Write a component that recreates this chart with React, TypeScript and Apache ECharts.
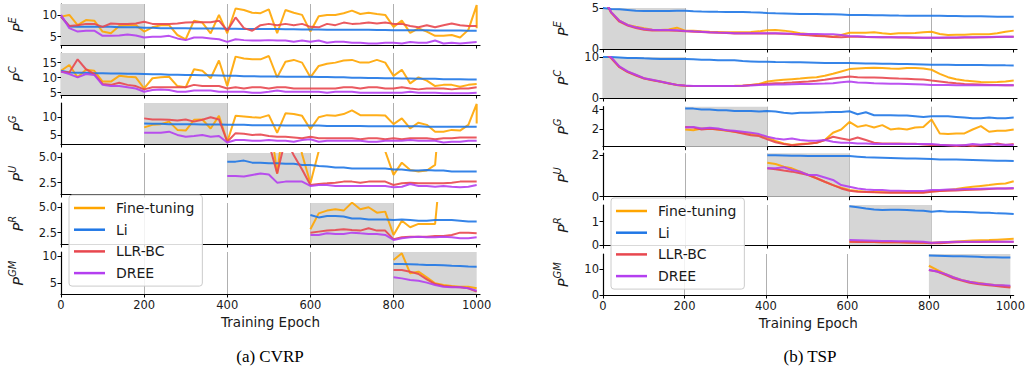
import React, { useEffect, useRef } from "react";
import * as echarts from "echarts";

// ---------------- data ----------------
const METHODS = ["Fine-tuning", "Li", "LLR-BC", "DREE"];
const ROW_KEYS = ["E", "C", "G", "U", "R", "GM"];
const ROW_START = [0, 0, 200, 400, 600, 800]; // first epoch of each row
const SHADE = [[0, 200], [0, 200], [200, 400], [400, 600], [600, 800], [800, 1000]];
const EPOCH_STEP = 20;
const X_TICKS = [0, 200, 400, 600, 800, 1000];
const CAPTIONS = ["(a) CVRP", "(b) TSP"];
const X_NAME = "Training Epoch";

// CVRP
const cvrpE_FT = [9.7,10.1,7.7,8.9,8.75,6.2,5.8,7.5,7.7,7.7, 6.2,7.2,7.7,7.7,5.4,4.4,8.75,8.3,5.8,10.1, 5.8,11.6,11.25,10.6,10.5,11.4,5.8,11.25,10.6,10.1, 6.2,9.8,10.1,10.1,10.5,11.1,10.3,10.6,10.3,10.1, 7.3,8.75,5.9,6.95,6.2,5.2,5.2,5.4,4.8,6.6, 12.4];
const cvrpE_FT_last = 7.0;
const cvrpE_Li = [9.7,7.4,7.3,7.3,7.3,7.3,7.3,7.2,7.2,7.2, 7.1,7.1,7.0,7.0,7.0,7.0,6.9,6.9,6.9,6.9, 6.85,6.85,6.8,6.8,6.8,6.8,6.8,6.75,6.75,6.7, 6.7,6.7,6.65,6.65,6.6,6.6,6.6,6.6,6.55,6.55, 6.5,6.5,6.5,6.5,6.5,6.45,6.45,6.45,6.45,6.4, 6.4];
const cvrpE_LLR = [9.7,7.5,7.7,8.0,8.0,7.3,8.1,8.0,8.0,8.1, 8.5,8.0,8.0,8.0,8.1,8.3,8.4,8.4,8.4,8.75, 6.4,9.5,7.0,6.4,7.7,8.0,7.7,8.0,7.7,8.0, 7.3,7.2,8.0,7.7,8.3,8.0,8.1,8.3,8.1,8.3, 8.0,8.0,7.5,7.2,7.7,7.2,7.7,8.1,7.7,7.5, 7.5];
const cvrpE_DREE = [10.1,7.0,6.2,6.4,6.4,5.2,5.2,5.3,5.5,5.3, 4.8,5.0,5.0,5.2,4.6,4.2,4.8,4.8,4.6,4.4, 3.8,4.4,4.2,4.1,4.1,4.2,4.1,4.1,3.8,4.1, 3.8,4.1,3.6,3.8,3.8,3.6,3.6,3.4,3.4,3.6, 3.6,3.4,3.75,3.6,3.6,4.1,3.4,3.6,3.4,3.6, 3.75];

const cvrpC_FT = [12.3,14.2,10.1,12.6,12.3,8.7,8.7,10.6,10.3,10.1, 6.4,9.8,10.1,10.3,7.2,6.8,12.8,12.3,9.8,15.7, 7.2,17.0,16.4,16.1,16.1,17.2,10.1,15.3,15.9,15.0, 10.1,13.9,14.6,15.0,15.7,15.9,15.0,15.0,15.9,15.0, 10.6,12.6,8.1,10.1,9.0,7.2,7.6,7.6,7.0,7.6, 7.9];
const cvrpC_Li = [12.3,11.7,11.6,11.6,11.5,11.5,11.4,11.4,11.3,11.3, 11.2,11.1,11.1,11.0,11.0,10.9,10.9,10.8,10.8,10.7, 10.6,10.6,10.5,10.5,10.4,10.4,10.4,10.3,10.3,10.3, 10.3,10.2,10.2,10.1,10.1,10.0,10.0,9.9,9.9,9.8, 9.8,9.7,9.7,9.6,9.6,9.6,9.5,9.5,9.5,9.4, 9.4];
const cvrpC_LLR = [12.0,11.7,16.1,12.8,11.2,7.9,7.6,8.3,7.6,7.2, 6.1,6.8,6.8,6.8,6.8,6.8,7.6,7.2,7.2,7.2, 6.4,6.8,6.4,6.8,6.8,6.4,6.8,6.8,6.4,6.4, 6.4,6.4,6.4,6.4,6.8,6.8,6.4,6.8,6.8,6.4, 6.4,6.8,6.4,6.1,6.4,6.4,6.4,6.1,6.4,6.4, 6.8];
const cvrpC_DREE = [12.0,11.2,10.1,11.2,10.9,7.6,7.2,7.2,6.8,6.4, 5.3,5.9,6.1,5.9,5.3,5.3,5.7,5.7,5.7,5.3, 5.3,5.3,5.3,5.0,5.0,5.3,5.7,5.3,5.3,5.3, 5.3,5.3,5.0,5.3,5.3,5.3,5.0,5.0,5.0,5.0, 5.0,5.0,5.3,5.0,5.0,5.0,4.8,4.8,4.8,4.8, 5.0];

const cvrpG_FT = [7.2,7.9,8.1,8.8,6.5,6.3,9.3,9.4,6.9,10.4, 3.2,10.4,10.2,10.0,9.9,10.6,5.7,11.1,10.9,10.4, 6.7,10.0,10.6,10.4,10.9,11.9,10.6,10.6,10.6,10.5, 8.1,9.7,6.9,8.5,7.9,6.0,6.0,6.5,6.3,7.9, 13.7];
const cvrpG_FT_last = 8.3;
const cvrpG_Li = [8.3,8.2,8.2,8.1,8.1,8.1,8.1,8.0,8.0,8.0, 7.9,7.9,7.9,7.8,7.8,7.8,7.8,7.7,7.7,7.7, 7.7,7.7,7.6,7.6,7.6,7.6,7.6,7.5,7.5,7.5, 7.5,7.5,7.5,7.5,7.4,7.4,7.4,7.4,7.4,7.4, 7.4];
const cvrpG_LLR = [9.7,9.4,9.4,9.3,9.1,9.4,8.8,9.3,10.0,9.4, 3.2,5.6,5.4,5.1,5.2,4.8,4.6,4.6,4.4,4.2, 4.6,4.2,4.2,4.2,4.2,4.2,3.9,4.2,4.2,3.9, 4.2,3.9,4.2,4.2,4.2,3.9,4.2,4.2,4.4,4.4, 4.4];
const cvrpG_DREE = [5.7,5.7,5.7,6.0,5.1,4.6,4.8,5.1,4.6,4.8, 3.0,3.7,3.7,3.5,3.5,3.7,3.5,3.5,3.2,3.7, 3.9,3.2,3.5,3.5,3.5,3.5,3.5,3.2,3.2,3.5, 3.5,3.5,3.7,3.5,3.5,3.5,3.0,3.2,3.2,3.5, 3.5];

const cvrpU_FT = [8.5,9.0,9.2,8.8,8.6,9.5,3.4,9.8,9.4,5.3, 2.43,5.6,9.0,9.2,9.5,10.0,9.2,9.3,9.0,5.6, 3.26,4.47,3.75,3.6,3.7,4.25,14.0,13.0,12.5,13.5, 15.0];
const cvrpU_Li = [4.57,4.57,4.67,4.47,4.47,4.4,4.4,4.35,4.35,4.24, 4.24,4.14,4.08,4.0,4.0,3.9,3.9,3.9,3.9,3.9, 3.8,3.8,3.7,3.7,3.75,3.7,3.7,3.6,3.6,3.6, 3.6];
const cvrpU_LLR = [7.0,6.8,6.9,6.6,6.5,6.4,3.4,6.8,5.2,3.8, 2.27,2.37,2.43,2.5,2.6,2.6,2.5,2.6,2.6,2.6, 2.27,2.43,2.5,2.43,2.43,2.43,2.43,2.5,2.6,2.6, 2.6];
const cvrpU_DREE = [3.16,3.16,3.1,3.26,3.4,3.3,2.5,2.6,2.6,2.6, 2.17,2.27,2.27,2.17,2.17,2.17,2.17,2.17,2.17,2.17, 2.04,2.1,2.37,2.17,2.17,2.1,2.17,2.1,2.04,2.1, 2.27];

const cvrpR_FT = [2.83,4.4,4.67,4.8,4.67,5.46,4.8,5.0,4.47,4.57, 2.27,3.68,3.03,3.36,3.36,3.36,12.0,12.5,12.0,12.8, 14.0];
const cvrpR_Li = [4.24,4.0,4.14,4.14,4.08,3.9,3.9,3.8,3.8,3.8, 3.75,3.8,3.75,3.68,3.68,3.75,3.75,3.75,3.68,3.6, 3.6];
const cvrpR_LLR = [2.5,2.6,2.7,2.76,2.83,2.76,2.7,2.93,2.7,2.7, 1.84,2.04,2.1,2.1,2.1,2.17,2.17,2.27,2.5,2.5, 2.43];
const cvrpR_DREE = [2.27,2.27,2.43,2.37,2.37,2.5,2.43,2.37,2.37,2.27, 1.78,1.94,2.04,2.1,2.04,2.04,2.1,2.04,1.94,1.94, 2.04];

const cvrpGM_FT = [9.27,10.49,6.83,7.13,6.09,5.0,4.69,4.51,4.38,4.38,4.08];
const cvrpGM_Li = [8.55,8.53,8.5,8.42,8.35,8.33,8.3,8.2,8.18,8.08,8.05];
const cvrpGM_LLR = [7.44,7.44,7.13,6.7,5.73,4.87,4.5,4.38,4.26,4.08,3.47];
const cvrpGM_DREE = [6.09,5.9,5.6,5.48,5.12,4.69,4.38,4.26,4.26,4.08,3.65];

// TSP
const tspE_FT = [6.3,4.5,3.46,2.93,2.72,2.52,2.35,2.32,2.38,2.6, 2.24,2.24,2.15,2.11,2.08,2.03,2.03,2.03,2.08,2.15, 2.3,2.32,2.24,2.11,1.91,1.83,1.71,1.59,1.5,1.71, 1.99,1.99,1.99,2.03,1.91,1.83,1.91,1.91,1.95,2.03, 2.11,1.83,1.71,1.73,1.75,1.79,1.79,1.81,1.91,2.11, 2.24];
const tspE_Li = [5.0,4.88,4.84,4.76,4.67,4.63,4.63,4.63,4.63,4.67, 4.67,4.6,4.57,4.55,4.53,4.52,4.5,4.5,4.47,4.45, 4.38,4.35,4.33,4.3,4.27,4.27,4.27,4.25,4.25,4.22, 4.15,4.15,4.15,4.13,4.12,4.1,4.08,4.07,4.07,4.07, 4.07,4.05,4.02,4.02,4.0,4.0,3.98,3.96,3.94,3.94, 3.94];
const tspE_LLR = [6.3,4.4,3.33,2.85,2.55,2.35,2.25,2.25,2.25,2.22, 2.15,2.1,2.08,2.02,1.97,1.95,1.9,1.88,1.88,1.9, 1.9,1.88,1.86,1.82,1.75,1.68,1.6,1.55,1.45,1.42, 1.5,1.48,1.46,1.44,1.42,1.42,1.4,1.4,1.38,1.38, 1.38,1.38,1.38,1.38,1.4,1.4,1.42,1.42,1.45,1.48, 1.5];
const tspE_DREE = [6.3,4.5,3.46,2.93,2.64,2.45,2.35,2.32,2.32,2.28, 2.2,2.15,2.11,2.05,2.0,1.99,1.93,1.91,1.91,1.91, 1.91,1.91,1.9,1.86,1.83,1.83,1.82,1.8,1.79,1.71, 1.6,1.55,1.5,1.47,1.43,1.42,1.42,1.42,1.4,1.38, 1.38,1.38,1.4,1.4,1.42,1.42,1.44,1.46,1.48,1.5, 1.5];

const tspC_FT = [11.5,9.9,7.6,6.4,5.6,4.8,4.4,4.0,3.6,3.2, 3.0,2.95,2.95,2.95,2.95,2.95,2.97,3.0,3.15,3.4, 4.02,4.26,4.43,4.59,4.75,4.92,5.08,5.41,5.9,6.48, 7.05,7.21,7.3,7.38,7.3,7.21,7.13,7.3,7.3,7.21, 6.89,5.9,5.08,4.59,4.26,4.1,3.93,3.85,3.93,4.02, 4.26];
const tspC_Li = [10,10,9.9,9.75,9.75,9.67,9.6,9.5,9.5,9.5, 9.5,9.43,9.34,9.3,9.18,9.18,9.18,9.0,8.93,8.85, 8.82,8.77,8.75,8.72,8.69,8.65,8.6,8.55,8.52,8.52, 8.52,8.48,8.44,8.4,8.36,8.33,8.3,8.28,8.25,8.2, 8.11,8.1,8.08,8.05,8.03,8.03,8.02,8.0,7.98,7.96, 7.95];
const tspC_LLR = [11.3,9.7,7.5,6.3,5.5,4.75,4.3,3.95,3.55,3.15, 2.98,2.92,2.9,2.9,2.9,2.92,2.95,3.0,3.15,3.3, 3.45,3.6,3.65,3.77,3.93,4.02,4.18,4.43,4.75,5.0, 5.25,5.08,5.0,5.0,4.92,4.84,4.75,4.67,4.59,4.51, 4.26,4.02,3.77,3.6,3.44,3.36,3.28,3.2,3.2,3.11, 3.11];
const tspC_DREE = [11.5,9.9,7.7,6.48,5.66,4.84,4.43,4.02,3.6,3.2, 3.03,2.95,2.95,2.95,2.95,2.95,2.95,2.97,3.05,3.15, 3.25,3.28,3.3,3.35,3.4,3.44,3.48,3.52,3.6,3.85, 4.0,3.8,3.7,3.6,3.55,3.5,3.45,3.4,3.35,3.3, 3.2,3.18,3.15,3.11,3.11,3.1,3.1,3.1,3.1,3.11, 3.11];

const tspG_FT = [1.93,1.86,2.03,2.03,1.93,1.79,1.69,1.59,1.45,1.34, 1.1,0.75,0.48,0.31,0.41,0.48,0.55,0.83,1.59,1.93, 2.72,2.2,2.38,2.14,2.38,1.93,2.03,1.93,2.14,2.2, 2.96,1.52,1.45,1.52,1.52,1.93,2.28,1.69,1.79,1.79, 1.93];
const tspG_Li = [4.1,4.1,4.0,4.0,3.93,3.93,3.86,3.86,3.86,3.8, 3.85,3.8,3.66,3.6,3.66,3.66,3.69,3.72,3.76,3.76, 3.83,3.52,3.72,3.41,3.41,3.41,3.38,3.38,3.31,3.24, 3.31,3.31,3.31,3.24,3.17,3.1,3.1,3.17,3.1,3.1, 3.17];
const tspG_LLR = [2.2,2.14,1.93,2.0,1.93,1.86,1.69,1.52,1.34,1.24, 0.9,0.6,0.41,0.28,0.38,0.45,0.55,0.83,1.17,1.0, 0.83,1.1,0.83,0.55,0.48,0.48,0.48,0.45,0.45,0.38, 0.31,0.31,0.28,0.21,0.28,0.21,0.28,0.31,0.48,0.31, 0.41];
const tspG_DREE = [2.14,2.2,2.03,2.1,2.03,1.86,1.79,1.69,1.59,1.45, 1.17,1.0,0.9,1.0,0.83,0.76,0.76,0.83,0.66,0.55, 0.55,0.48,0.48,0.41,0.41,0.41,0.41,0.41,0.41,0.41, 0.41,0.34,0.28,0.28,0.28,0.41,0.34,0.41,0.34,0.34, 0.31];

const tspU_FT = [1.64,1.58,1.45,1.37,1.21,1.05,0.89,0.72,0.56,0.43, 0.32,0.27,0.24,0.23,0.22,0.21,0.21,0.21,0.21,0.22, 0.26,0.28,0.32,0.37,0.43,0.48,0.52,0.56,0.61,0.64, 0.75];
const tspU_Li = [2.0,2.0,1.99,1.98,1.98,1.97,1.97,1.96,1.96,1.96, 1.96,1.93,1.9,1.89,1.88,1.87,1.86,1.85,1.84,1.83, 1.82,1.8,1.8,1.79,1.78,1.77,1.76,1.75,1.74,1.73, 1.72];
const tspU_LLR = [1.37,1.32,1.26,1.21,1.13,1.05,0.89,0.72,0.56,0.4, 0.29,0.24,0.23,0.21,0.2,0.19,0.19,0.19,0.19,0.19, 0.24,0.27,0.29,0.3,0.32,0.34,0.35,0.37,0.39,0.4, 0.4];
const tspU_DREE = [1.37,1.37,1.42,1.29,1.21,1.05,1.05,0.93,0.81,0.56, 0.48,0.4,0.35,0.32,0.32,0.29,0.29,0.27,0.27,0.28, 0.32,0.32,0.35,0.35,0.37,0.37,0.38,0.39,0.4,0.4, 0.42];

const tspR_FT = [0.14,0.14,0.13,0.13,0.12,0.12,0.12,0.11,0.11,0.1, 0.1,0.12,0.13,0.15,0.17,0.19,0.2,0.21,0.23,0.25, 0.27];
const tspR_Li = [1.67,1.62,1.57,1.53,1.5,1.52,1.52,1.5,1.48,1.47, 1.43,1.46,1.43,1.43,1.42,1.41,1.39,1.39,1.36,1.35, 1.33];
const tspR_LLR = [0.14,0.13,0.13,0.13,0.12,0.12,0.12,0.11,0.1,0.1, 0.07,0.08,0.1,0.12,0.13,0.13,0.13,0.14,0.14,0.14, 0.14];
const tspR_DREE = [0.21,0.2,0.19,0.18,0.17,0.17,0.16,0.16,0.15,0.14, 0.1,0.12,0.13,0.14,0.14,0.14,0.14,0.14,0.14,0.14, 0.14];

const tspGM_FT = [11.2,9.6,8.1,6.8,5.8,5.1,4.7,4.2,3.8,3.6,3.2];
const tspGM_Li = [15.1,15.0,14.9,14.8,14.8,14.7,14.6,14.5,14.5,14.4,14.4];
const tspGM_LLR = [9.6,9.0,7.7,6.4,5.5,4.7,4.2,3.8,3.5,3.2,2.9];
const tspGM_DREE = [9.6,9.0,8.1,6.8,5.8,5.1,4.5,4.2,3.8,3.7,3.5];

// y-axis ranges and ticks per row (CVRP, TSP)
const CVRP_Y_MIN = [3.06, 4.23, 2.58, 1.38, 1.38, 3.04];
const CVRP_Y_MAX = [12.65, 18.2, 13.97, 5.42, 5.42, 10.73];
const CVRP_Y_TICKS = [[5, 10], [5, 10, 15], [5, 10], [2.5, 5], [2.5, 5], [5, 10]];
const CVRP_Y_DEC = [0, 0, 0, 1, 1, 0];
const TSP_Y_MIN = [0, 0, 0.14, 0, 0, 0];
const TSP_Y_MAX = [5, 10, 4.3, 2.1, 1.72, 15.7];
const TSP_Y_TICKS = [[0, 5], [0, 10], [2, 4], [0, 2], [0, 1], [0, 10]];
const TSP_Y_DEC = [0, 0, 0, 0, 0, 0];

// table: [panel][row][method]
const TABLE = [
  [
    [cvrpE_FT, cvrpE_Li, cvrpE_LLR, cvrpE_DREE],
    [cvrpC_FT, cvrpC_Li, cvrpC_LLR, cvrpC_DREE],
    [cvrpG_FT, cvrpG_Li, cvrpG_LLR, cvrpG_DREE],
    [cvrpU_FT, cvrpU_Li, cvrpU_LLR, cvrpU_DREE],
    [cvrpR_FT, cvrpR_Li, cvrpR_LLR, cvrpR_DREE],
    [cvrpGM_FT, cvrpGM_Li, cvrpGM_LLR, cvrpGM_DREE],
  ],
  [
    [tspE_FT, tspE_Li, tspE_LLR, tspE_DREE],
    [tspC_FT, tspC_Li, tspC_LLR, tspC_DREE],
    [tspG_FT, tspG_Li, tspG_LLR, tspG_DREE],
    [tspU_FT, tspU_Li, tspU_LLR, tspU_DREE],
    [tspR_FT, tspR_Li, tspR_LLR, tspR_DREE],
    [tspGM_FT, tspGM_Li, tspGM_LLR, tspGM_DREE],
  ],
];
// final extra point (same epoch 1000) of some Fine-tuning curves
const FT_LAST: Record<string, number> = { "0-0": cvrpE_FT_last, "0-2": cvrpG_FT_last };

// ---------------- layout / style ----------------
const COLORS = ["#ffa500", "#1f77e6", "#e8474f", "#b43ff0"];
const FONT = "DejaVu Sans";
const X_MAX = 1008;
const PANELS = [
  {
    left: 61, width: 419,
    tops: [4, 53, 103, 153, 203, 252],
    heights: [41, 42, 41, 41, 41, 42],
    yMin: CVRP_Y_MIN, yMax: CVRP_Y_MAX, yTicks: CVRP_Y_TICKS, yDec: CVRP_Y_DEC,
    nameGap: 36,
    legend: { left: 69, top: 195 },
    caption: { x: 270, y: 356 },
  },
  {
    left: 603, width: 414,
    tops: [8, 57, 106.7, 153.2, 205, 254],
    heights: [41, 41, 40, 43.5, 40, 41],
    yMin: TSP_Y_MIN, yMax: TSP_Y_MAX, yTicks: TSP_Y_TICKS, yDec: TSP_Y_DEC,
    nameGap: 33,
    legend: { left: 611, top: 198 },
    caption: { x: 810, y: 356 },
  },
];

function buildOption() {
  const grid: any[] = [];
  const xAxis: any[] = [];
  const yAxis: any[] = [];
  const series: any[] = [];

  PANELS.forEach((panel, p) => {
    ROW_KEYS.forEach((key, r) => {
      const gi = grid.length;
      const isBottom = r === ROW_KEYS.length - 1;
      grid.push({ left: panel.left, top: panel.tops[r], width: panel.width, height: panel.heights[r] });
      xAxis.push({
        gridIndex: gi,
        type: "value",
        min: 0,
        max: X_MAX,
        interval: 200,
        axisLine: { show: true, onZero: false, lineStyle: { color: "#000", width: 1.2 } },
        axisTick: { show: true, length: 3.5, customValues: X_TICKS, lineStyle: { color: "#000", width: 1 } },
        axisLabel: {
          show: isBottom,
          customValues: X_TICKS,
          formatter: (v: number) => String(Math.round(v)),
          fontFamily: FONT,
          fontSize: 11.5,
          color: "#1a1a1a",
          margin: 5,
        },
        splitLine: { show: true, showMinLine: false, showMaxLine: false, lineStyle: { color: "#b0b0b0", width: 1 } },
        name: isBottom ? X_NAME : "",
        nameLocation: "middle",
        nameGap: 21,
        nameTextStyle: { fontFamily: FONT, fontSize: 13.5, color: "#1a1a1a" },
      });
      const dec = panel.yDec[r];
      yAxis.push({
        gridIndex: gi,
        type: "value",
        min: panel.yMin[r],
        max: panel.yMax[r],
        axisLine: { show: true, onZero: false, lineStyle: { color: "#000", width: 1.2 } },
        axisTick: { show: true, length: 3.5, customValues: panel.yTicks[r], lineStyle: { color: "#000", width: 1 } },
        axisLabel: {
          customValues: panel.yTicks[r],
          formatter: (v: number) => v.toFixed(dec),
          fontFamily: FONT,
          fontSize: 11.5,
          color: "#1a1a1a",
          margin: 4,
        },
        splitLine: { show: false },
        name: `{p|P}{s|${key}}`,
        nameLocation: "middle",
        nameGap: panel.nameGap,
        nameTextStyle: {
          rich: {
            p: { fontFamily: FONT, fontStyle: "italic", fontSize: 14, lineHeight: 18, verticalAlign: "bottom", color: "#1a1a1a" },
            s: { fontFamily: FONT, fontStyle: "italic", fontSize: 10, lineHeight: 18, verticalAlign: "top", color: "#1a1a1a" },
          },
        },
      });
      // grey shaded region
      series.push({
        type: "line",
        xAxisIndex: gi,
        yAxisIndex: gi,
        data: [],
        silent: true,
        z: -1,
        markArea: {
          silent: true,
          itemStyle: { color: "#d6d6d6" },
          data: [[{ xAxis: SHADE[r][0] }, { xAxis: SHADE[r][1] }]],
        },
      });
      METHODS.forEach((name, m) => {
        const vals = TABLE[p][r][m];
        const data: number[][] = vals.map((v, i) => [ROW_START[r] + i * EPOCH_STEP, v]);
        const lastKey = `${p}-${r}`;
        if (m === 0 && FT_LAST[lastKey] !== undefined) data.push([1000, FT_LAST[lastKey]]);
        series.push({
          type: "line",
          name,
          xAxisIndex: gi,
          yAxisIndex: gi,
          data,
          showSymbol: false,
          clip: true,
          lineStyle: { color: COLORS[m], width: 2, opacity: 0.9 },
          itemStyle: { color: COLORS[m] },
          z: 3 + m,
        });
      });
    });
  });

  const legend = PANELS.map((panel) => ({
    data: METHODS,
    orient: "vertical",
    left: panel.legend.left,
    top: panel.legend.top,
    icon: "rect",
    itemWidth: 31,
    itemHeight: 2.5,
    itemGap: 5.7,
    padding: [5, 8, 5, 5],
    backgroundColor: "rgba(255,255,255,0.85)",
    borderColor: "#cccccc",
    borderWidth: 1,
    borderRadius: 3,
    selectedMode: false,
    z: 20,
    textStyle: { fontFamily: FONT, fontSize: 14, color: "#1a1a1a", lineHeight: 16, padding: [0, 0, 0, 6] },
  }));

  const graphic = PANELS.map((panel, p) => ({
    type: "text",
    x: panel.caption.x,
    y: panel.caption.y,
    style: {
      text: CAPTIONS[p],
      font: "17px 'Liberation Serif'",
      fill: "#000",
      textAlign: "center",
      textVerticalAlign: "middle",
    },
  }));

  return { animation: false, backgroundColor: "#fff", grid, xAxis, yAxis, series, legend, graphic };
}

export default function App() {
  const ref = useRef<HTMLDivElement>(null);
  useEffect(() => {
    document.body.style.margin = "0";
    const chart = echarts.init(ref.current!, undefined, { renderer: "svg" });
    chart.setOption(buildOption() as any);
    return () => chart.dispose();
  }, []);
  return <div ref={ref} style={{ width: 1028, height: 372 }} />;
}
